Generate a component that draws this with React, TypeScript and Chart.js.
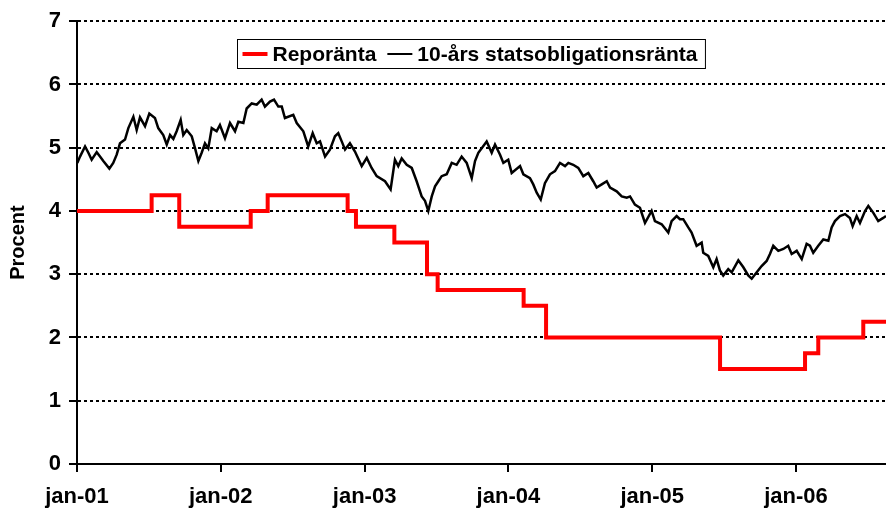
import React, { useEffect, useRef } from "react";
import { Chart, registerables } from "chart.js";

Chart.register(...registerables);

// Years since jan-01 (x) for the repo rate steps and the rate in effect from that date
const repoT = [0, 0.519, 0.711, 1.208, 1.326, 1.882, 1.94, 2.207, 2.434, 2.508, 3.106, 3.262, 4.472, 5.063, 5.155, 5.468, 5.626];
const repoV = [4.0, 4.25, 3.75, 4.0, 4.25, 4.0, 3.75, 3.5, 3.0, 2.75, 2.5, 2.0, 1.5, 1.75, 2.0, 2.25, 2.25];

// 10-year government bond yield
const bondT = [
  0.002, 0.021, 0.056, 0.079, 0.102, 0.137, 0.16, 0.183, 0.225, 0.252, 0.276, 0.299, 0.334, 0.357, 0.392, 0.415, 0.438, 0.473, 0.503, 0.542,
  0.565, 0.6, 0.624, 0.647, 0.67, 0.693, 0.721, 0.739, 0.763, 0.798, 0.821, 0.844, 0.867, 0.89, 0.913, 0.937, 0.971, 0.994, 1.029, 1.064,
  1.099, 1.122, 1.157, 1.18, 1.215, 1.25, 1.284, 1.307, 1.342, 1.37, 1.4, 1.424, 1.446, 1.504, 1.528, 1.574, 1.608, 1.639, 1.667, 1.69,
  1.725, 1.759, 1.794, 1.817, 1.841, 1.864, 1.898, 1.933, 1.98, 2.015, 2.049, 2.084, 2.142, 2.181, 2.211, 2.234, 2.258, 2.293, 2.328, 2.362,
  2.397, 2.42, 2.443, 2.467, 2.49, 2.513, 2.536, 2.571, 2.606, 2.64, 2.675, 2.71, 2.745, 2.768, 2.791, 2.849, 2.884, 2.907, 2.942, 2.965,
  2.999, 3.023, 3.081, 3.104, 3.15, 3.173, 3.197, 3.225, 3.254, 3.289, 3.324, 3.359, 3.394, 3.417, 3.451, 3.486, 3.521, 3.556, 3.59, 3.614,
  3.649, 3.684, 3.707, 3.753, 3.788, 3.823, 3.846, 3.88, 3.915, 3.95, 3.996, 4.019, 4.066, 4.112, 4.135, 4.17, 4.193, 4.216, 4.251, 4.274,
  4.309, 4.344, 4.355, 4.39, 4.425, 4.448, 4.471, 4.494, 4.529, 4.553, 4.599, 4.634, 4.668, 4.692, 4.727, 4.761, 4.796, 4.819, 4.842, 4.877,
  4.912, 4.946, 4.97, 5.005, 5.04, 5.074, 5.097, 5.12, 5.155, 5.19, 5.225, 5.248, 5.271, 5.306, 5.341, 5.375, 5.394, 5.422, 5.445, 5.48,
  5.503, 5.538, 5.572, 5.607, 5.626,
];
const bondV = [
  4.76, 4.86, 5.02, 4.92, 4.81, 4.93, 4.86, 4.79, 4.67, 4.76, 4.89, 5.07, 5.13, 5.31, 5.49, 5.28, 5.48, 5.34, 5.54, 5.47,
  5.31, 5.2, 5.05, 5.2, 5.14, 5.26, 5.44, 5.2, 5.28, 5.18, 4.99, 4.79, 4.92, 5.07, 4.99, 5.31, 5.26, 5.36, 5.15, 5.39,
  5.26, 5.41, 5.39, 5.62, 5.7, 5.68, 5.76, 5.65, 5.73, 5.76, 5.65, 5.65, 5.47, 5.52, 5.39, 5.26, 5.02, 5.23, 5.07, 5.1,
  4.86, 4.97, 5.18, 5.23, 5.1, 4.97, 5.07, 4.94, 4.71, 4.84, 4.68, 4.55, 4.47, 4.34, 4.81, 4.71, 4.83, 4.73, 4.68, 4.47,
  4.23, 4.16, 4.0, 4.23, 4.39, 4.47, 4.55, 4.58, 4.76, 4.73, 4.86, 4.76, 4.52, 4.79, 4.92, 5.1, 4.92, 5.05, 4.89, 4.76,
  4.81, 4.6, 4.71, 4.58, 4.52, 4.42, 4.29, 4.18, 4.44, 4.58, 4.63, 4.76, 4.71, 4.76, 4.73, 4.68, 4.55, 4.6, 4.47, 4.37,
  4.42, 4.47, 4.37, 4.31, 4.23, 4.21, 4.23, 4.1, 4.05, 3.81, 4.0, 3.84, 3.79, 3.66, 3.84, 3.92, 3.87, 3.87, 3.74, 3.66,
  3.45, 3.5, 3.34, 3.29, 3.11, 3.24, 3.06, 2.98, 3.08, 3.03, 3.22, 3.11, 2.98, 2.93, 3.03, 3.13, 3.21, 3.32, 3.45, 3.37,
  3.4, 3.45, 3.32, 3.37, 3.24, 3.48, 3.45, 3.34, 3.45, 3.55, 3.53, 3.74, 3.84, 3.92, 3.95, 3.89, 3.76, 3.92, 3.81, 4.0,
  4.08, 3.97, 3.84, 3.89, 3.92,
];

const xTickLabels = ["jan-01", "jan-02", "jan-03", "jan-04", "jan-05", "jan-06"];
const seriesLabels = ["Reporänta", "10-års statsobligationsränta"];
const xMax = 5.626;
const yTicks = [0, 1, 2, 3, 4, 5, 6, 7];

const FONT = "'Liberation Sans', Arial, sans-serif";

const insideLegend = {
  id: "insideLegend",
  afterDraw(chart: any) {
    const ctx = chart.ctx as CanvasRenderingContext2D;
    const area = chart.chartArea;
    ctx.save();
    ctx.font = `bold 21px ${FONT}`;
    const items = chart.data.datasets.map((d: any) => ({
      label: d.label as string,
      color: d.borderColor as string,
      lw: d.legendLineWidth as number,
    }));
    const sample = 25;
    const gapS = 5;
    const gapItem = 11;
    const padL = 5;
    const padR = 8;
    let total = padL + padR;
    items.forEach((it: any, i: number) => {
      total += sample + gapS + ctx.measureText(it.label).width + (i < items.length - 1 ? gapItem : 0);
    });
    const left = Math.round(area.left + 160) + 0.5;
    const top = Math.round(area.top + 18) + 0.5;
    const h = 29;
    ctx.fillStyle = "#fff";
    ctx.fillRect(left, top, total, h);
    ctx.strokeStyle = "#000";
    ctx.lineWidth = 1;
    ctx.strokeRect(left, top, total, h);
    const cy = top + h / 2;
    let x = left + padL;
    ctx.textBaseline = "middle";
    ctx.textAlign = "left";
    items.forEach((it: any) => {
      ctx.beginPath();
      ctx.strokeStyle = it.color;
      ctx.lineWidth = it.lw;
      ctx.moveTo(x, cy);
      ctx.lineTo(x + sample, cy);
      ctx.stroke();
      x += sample + gapS;
      ctx.fillStyle = "#000";
      ctx.fillText(it.label, x, cy + 1);
      x += ctx.measureText(it.label).width + gapItem;
    });
    ctx.restore();
  },
};

export default function App() {
  const ref = useRef<HTMLCanvasElement | null>(null);

  useEffect(() => {
    document.body.style.margin = "0";
    const canvas = ref.current;
    if (!canvas) return;
    const repoPts = repoT.map((t, i) => ({ x: t, y: repoV[i] }));
    const n = Math.min(bondT.length, bondV.length);
    const bondPts = bondT.slice(0, n).map((t, i) => ({ x: t, y: bondV[i] }));

    const chart = new Chart(canvas, {
      type: "line",
      data: {
        datasets: [
          {
            label: seriesLabels[0],
            data: repoPts,
            borderColor: "#ff0000",
            backgroundColor: "#ff0000",
            borderWidth: 4,
            stepped: true,
            pointRadius: 0,
            fill: false,
            legendLineWidth: 4,
          } as any,
          {
            label: seriesLabels[1],
            data: bondPts,
            borderColor: "#000000",
            backgroundColor: "#000000",
            borderWidth: 2.5,
            pointRadius: 0,
            tension: 0,
            fill: false,
            legendLineWidth: 2,
          } as any,
        ],
      },
      options: {
        animation: false,
        responsive: false,
        maintainAspectRatio: false,
        layout: { padding: { top: 19, left: 0, right: 0, bottom: 0 } },
        plugins: { legend: { display: false }, tooltip: { enabled: false } },
        font: { family: FONT },
        scales: {
          x: {
            type: "linear",
            min: 0,
            max: xMax,
            afterBuildTicks: (s: any) => {
              s.ticks = xTickLabels.map((_, i) => ({ value: i }));
            },
            afterFit: (s: any) => {
              s.height = 48;
            },
            grid: { drawOnChartArea: false, drawTicks: true, tickLength: 8, color: "#000", lineWidth: 2 },
            border: { color: "#000", width: 2 },
            ticks: {
              autoSkip: false,
              maxRotation: 0,
              padding: 12,
              color: "#000",
              font: { family: FONT, size: 22, weight: "bold" },
              callback: (_v: any, i: number) => xTickLabels[i],
            },
          },
          y: {
            min: 0,
            max: 7,
            afterBuildTicks: (s: any) => {
              s.ticks = yTicks.map((v) => ({ value: v }));
            },
            afterFit: (s: any) => {
              s.width = 77;
            },
            grid: { color: "#000", lineWidth: 2, tickLength: 8, tickBorderDash: [], tickWidth: 2 } as any,
            border: { color: "#000", width: 2, dash: [3, 3] },
            ticks: {
              padding: 8,
              color: "#000",
              font: { family: FONT, size: 22, weight: "bold" },
              callback: (v: any) => String(v),
            },
            title: {
              display: true,
              text: "Procent",
              color: "#000",
              font: { family: FONT, size: 20, weight: "bold" },
              padding: { top: 6, bottom: 0 },
            },
          },
        },
      } as any,
      plugins: [insideLegend],
    });
    return () => chart.destroy();
  }, []);

  return (
    <div style={{ width: 886, height: 512, background: "#fff" }}>
      <canvas ref={ref} width={886} height={512} style={{ display: "block" }} />
    </div>
  );
}
